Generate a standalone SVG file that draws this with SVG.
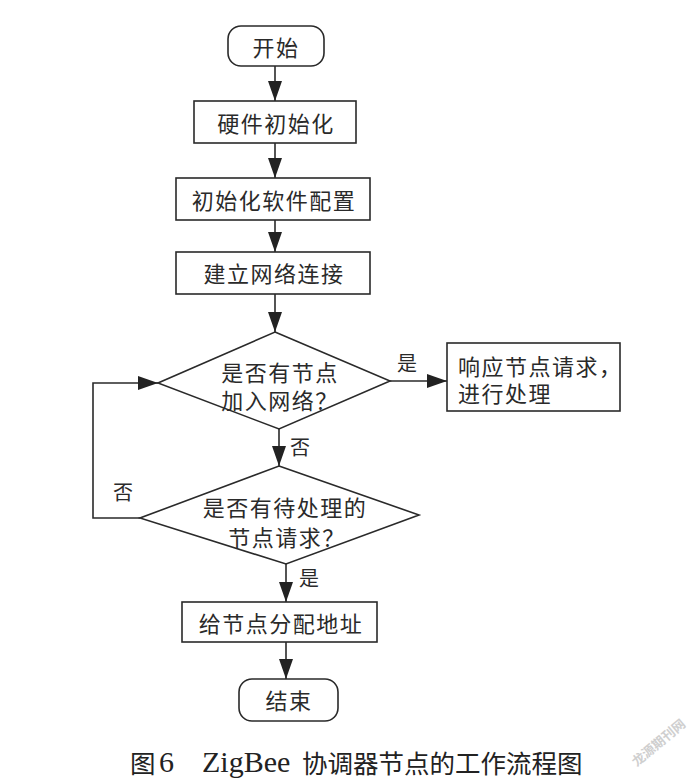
<svg xmlns="http://www.w3.org/2000/svg" width="700" height="782" viewBox="0 0 700 782">
<defs>
<style>
.box{fill:#fff;stroke:#2a2a2a;stroke-width:1.6}
.ln{fill:none;stroke:#2a2a2a;stroke-width:1.6}
.t{font-family:"Noto Sans CJK SC","Liberation Serif",sans-serif;font-size:22px;letter-spacing:1.5px;fill:#2a2a2a;dominant-baseline:central}
.m{text-anchor:middle}
.lab{font-family:"Noto Sans CJK SC",sans-serif;font-size:20px;fill:#2a2a2a;dominant-baseline:central;text-anchor:middle}
.cap{font-family:"Noto Sans CJK SC",sans-serif;font-size:25.5px;fill:#222;dominant-baseline:central}
.lat{font-family:"Liberation Serif",serif;font-size:30px}
</style>
<marker id="ah" markerUnits="userSpaceOnUse" markerWidth="20" markerHeight="14" refX="20" refY="7" orient="auto">
<path d="M0,0 L20,7 L0,14 z" fill="#222"/>
</marker>
</defs>
<rect width="700" height="782" fill="#fff"/>

<g id="connectors">
<line class="ln" x1="275" y1="66" x2="275" y2="101" marker-end="url(#ah)"/>
<line class="ln" x1="275" y1="143" x2="275" y2="178" marker-end="url(#ah)"/>
<line class="ln" x1="275" y1="220" x2="275" y2="252" marker-end="url(#ah)"/>
<line class="ln" x1="275" y1="294" x2="275" y2="332" marker-end="url(#ah)"/>
<line class="ln" x1="390" y1="381" x2="447" y2="381" marker-end="url(#ah)"/>
<line class="ln" x1="279" y1="429" x2="279" y2="466" marker-end="url(#ah)"/>
<polyline class="ln" points="140,518 93,518 93,383 158,383" marker-end="url(#ah)"/>
<line class="ln" x1="286" y1="564" x2="286" y2="602" marker-end="url(#ah)"/>
<line class="ln" x1="286" y1="642" x2="286" y2="679" marker-end="url(#ah)"/>
<text class="lab" x="407" y="362">是</text>
<text class="lab" x="300" y="446">否</text>
<text class="lab" x="123" y="491">否</text>
<text class="lab" x="309" y="577">是</text>
</g>

<g id="start">
<rect class="box" x="228" y="26" width="96" height="40" rx="13" ry="13"/>
<text class="t m" x="276" y="46">开始</text>
</g>
<g id="hw-init">
<rect class="box" x="194" y="101" width="162" height="42"/>
<text class="t m" x="276" y="122">硬件初始化</text>
</g>
<g id="sw-init">
<rect class="box" x="176" y="178" width="194" height="42"/>
<text class="t m" x="274" y="199">初始化软件配置</text>
</g>
<g id="net-build">
<rect class="box" x="176" y="252" width="194" height="42"/>
<text class="t m" x="274" y="272">建立网络连接</text>
</g>
<g id="dec-join">
<polygon class="box" points="275,332 390,381 279,429 158,383"/>
<text class="t m" x="280" y="371">是否有节点</text>
<text class="t m" x="280" y="399">加入网络？</text>
</g>
<g id="respond">
<rect class="box" x="447" y="343" width="173" height="68"/>
<text class="t" x="458" y="365">响应节点请求，</text>
<text class="t" x="458" y="392">进行处理</text>
</g>
<g id="dec-pending">
<polygon class="box" points="279,466 419,515 286,564 140,518"/>
<text class="t m" x="285" y="506">是否有待处理的</text>
<text class="t m" x="287" y="536">节点请求？</text>
</g>
<g id="assign">
<rect class="box" x="182" y="602" width="195" height="40"/>
<text class="t m" x="281" y="622">给节点分配地址</text>
</g>
<g id="end">
<rect class="box" x="239" y="679" width="99" height="42" rx="13" ry="13"/>
<text class="t m" x="289" y="699">结束</text>
</g>

<text class="cap" y="761"><tspan x="130">图</tspan><tspan class="lat" x="159">6</tspan><tspan class="lat" x="202">ZigBee</tspan><tspan x="302">协调器节点的工作流程图</tspan></text>
<text x="658" y="742" transform="rotate(-40 658 742)" font-family="Noto Sans CJK SC,sans-serif" font-size="13" fill="#cfcfcf" text-anchor="middle" dominant-baseline="central" font-weight="bold">龙源期刊网</text>
</svg>
